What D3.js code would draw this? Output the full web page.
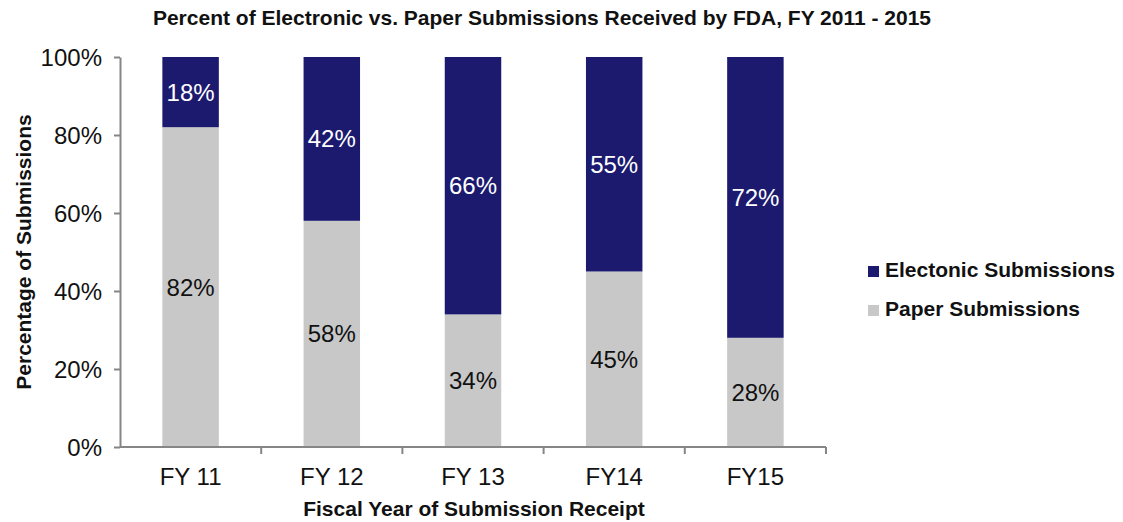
<!DOCTYPE html>
<html>
<head>
<meta charset="utf-8">
<script src="https://cdn.jsdelivr.net/npm/d3@7"></script>
<style>
  body { margin: 0; background: #fff; }
  svg text { font-family: "Liberation Sans", Arial, sans-serif; }
</style>
</head>
<body>
<svg id="chart" width="1123" height="522"></svg>
<script>
'use strict';

const years = ["FY 11", "FY 12", "FY 13", "FY14", "FY15"];
const paper = [82, 58, 34, 45, 28];
const electronic = [18, 42, 66, 55, 72];
const yTicks = [0, 20, 40, 60, 80, 100];

const navy = "#1b1a6f", grey = "#c8c8c8", axisCol = "#868686";

const svg = d3.select("#chart");
const plotL = 120, plotR = 826, plotT = 57, plotB = 447;

const x = d3.scaleBand().domain(years).range([plotL, plotR]).paddingInner(0.6).paddingOuter(0.3);
const xTick = d3.scaleBand().domain(years).range([plotL, plotR]);
const y = d3.scaleLinear().domain([0, 100]).range([plotB, plotT]);

const rows = years.map((d, i) => ({ year: d, paper: paper[i], electronic: electronic[i] }));

// bars
svg.selectAll("rect.paper")
  .data(rows)
  .enter().append("rect")
    .attr("class", "paper")
    .attr("x", d => x(d.year))
    .attr("width", x.bandwidth())
    .attr("y", d => y(d.paper))
    .attr("height", d => y(0) - y(d.paper))
    .style("fill", grey);

svg.selectAll("rect.elec")
  .data(rows)
  .enter().append("rect")
    .attr("class", "elec")
    .attr("x", d => x(d.year))
    .attr("width", x.bandwidth())
    .attr("y", d => y(100))
    .attr("height", d => y(d.paper) - y(100))
    .style("fill", navy);

// value labels
svg.selectAll("text.pv")
  .data(rows)
  .enter().append("text")
    .attr("class", "pv")
    .attr("x", d => x(d.year) + x.bandwidth() / 2)
    .attr("y", d => y(d.paper / 2) + 8.5)
    .attr("text-anchor", "middle")
    .style("font-size", "24px")
    .style("fill", "#111")
    .text(d => d.paper + "%");

svg.selectAll("text.ev")
  .data(rows)
  .enter().append("text")
    .attr("class", "ev")
    .attr("x", d => x(d.year) + x.bandwidth() / 2)
    .attr("y", d => y(d.paper + d.electronic / 2) + 8.5)
    .attr("text-anchor", "middle")
    .style("font-size", "24px")
    .style("fill", "#fff")
    .text(d => d.electronic + "%");

// y axis
const yAxis = svg.append("g")
  .attr("transform", "translate(" + plotL + ",0)")
  .call(d3.axisLeft(y).tickValues(yTicks).tickFormat(d => d + "%").tickSize(6).tickSizeOuter(0));
yAxis.select(".domain").attr("stroke", axisCol).attr("stroke-width", 2);
yAxis.selectAll(".tick line").attr("stroke", axisCol).attr("stroke-width", 2);
yAxis.selectAll(".tick text").attr("x", -18).attr("dy", "0.36em")
  .style("font-size", "24px").style("fill", "#111").style("font-family", "Liberation Sans, Arial, sans-serif");

// x axis
const xAxis = svg.append("g")
  .attr("transform", "translate(0," + plotB + ")");
xAxis.append("line")
  .attr("x1", plotL).attr("x2", plotR).attr("y1", 0).attr("y2", 0)
  .attr("stroke", axisCol).attr("stroke-width", 2);
xAxis.selectAll("line.tk")
  .data(years)
  .enter().append("line")
    .attr("class", "tk")
    .attr("x1", (d, i) => plotL + xTick.step() * (i + 1))
    .attr("x2", (d, i) => plotL + xTick.step() * (i + 1))
    .attr("y1", 0).attr("y2", 7)
    .attr("stroke", axisCol).attr("stroke-width", 2);
xAxis.selectAll("text.xl")
  .data(years)
  .enter().append("text")
    .attr("class", "xl")
    .attr("x", d => x(d) + x.bandwidth() / 2)
    .attr("y", 38)
    .attr("text-anchor", "middle")
    .style("font-size", "24px")
    .style("fill", "#111")
    .text(d => d);

// titles
svg.append("text")
  .attr("x", 542).attr("y", 25)
  .attr("text-anchor", "middle")
  .style("font-size", "21px").style("font-weight", "bold").style("fill", "#111")
  .text("Percent of Electronic vs. Paper Submissions Received by FDA, FY 2011 - 2015");

svg.append("text")
  .attr("x", 474).attr("y", 516)
  .attr("text-anchor", "middle")
  .style("font-size", "21px").style("font-weight", "bold").style("fill", "#111")
  .text("Fiscal Year of Submission Receipt");

svg.append("text")
  .attr("transform", "translate(31," + ((plotT + plotB) / 2) + ") rotate(-90)")
  .attr("text-anchor", "middle")
  .style("font-size", "21px").style("font-weight", "bold").style("fill", "#111")
  .text("Percentage of Submissions");

// legend
const legend = [{ name: "Electonic Submissions", color: navy }, { name: "Paper Submissions", color: grey }];
const lg = svg.selectAll("g.lg")
  .data(legend)
  .enter().append("g")
    .attr("class", "lg")
    .attr("transform", (d, i) => "translate(868," + (266 + i * 39) + ")");
lg.append("rect").attr("width", 11).attr("height", 11).style("fill", d => d.color);
lg.append("text")
  .attr("x", 17).attr("y", 11)
  .style("font-size", "21px").style("font-weight", "bold").style("fill", "#111")
  .text(d => d.name);
</script>
</body>
</html>
